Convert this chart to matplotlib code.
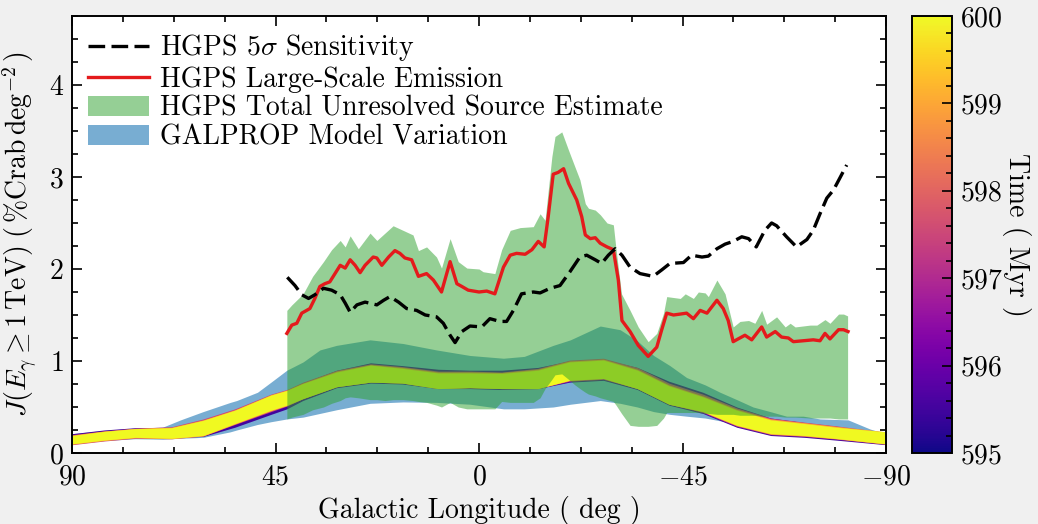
import numpy as np
import matplotlib
matplotlib.use("Agg")
import matplotlib.pyplot as plt
from matplotlib.ticker import MultipleLocator

plt.rcParams['font.family'] = 'serif'
plt.rcParams['font.serif'] = ['cmr10']
plt.rcParams['mathtext.fontset'] = 'cm'
plt.rcParams['axes.formatter.use_mathtext'] = True
plt.rcParams['axes.unicode_minus'] = True

# HGPS large-scale emission (red line)
l_hgps = [42.5, 41.4, 40.3, 39.2, 37.4, 36.3, 35.2, 34.1, 33.0, 30.7, 29.6, 28.5, 27.4, 26.3,
          25.2, 23.4, 22.6, 21.5, 20.0, 18.6, 17.5, 16.4, 14.9, 13.4, 11.6, 10.1, 8.3, 6.4,
          4.9, 3.8, 2.4, 0.0, -1.7, -3.5, -5.4, -6.9, -8.3, -10.2, -11.7, -13.1, -14.4,
          -15.3, -16.4, -17.5, -18.7, -19.8, -21.6, -22.7, -23.5, -24.6, -25.7, -26.8,
          -28.3, -29.7, -30.8, -31.6, -33.4, -35.2, -37.4, -39.3, -40.4, -41.5, -43.0,
          -44.5, -45.9, -47.4, -48.9, -50.4, -52.6, -54.0, -55.1, -56.2, -57.3, -58.8,
          -60.3, -62.5, -63.6, -65.5, -66.9, -68.4, -69.5, -71.7, -73.9, -75.4, -76.5,
          -77.6, -79.5, -80.6, -81.6]
large_scale = [1.30, 1.39, 1.41, 1.52, 1.57, 1.68, 1.81, 1.84, 1.86, 2.04, 2.01, 2.10, 2.04, 1.96,
               2.04, 2.13, 2.12, 2.04, 2.13, 2.20, 2.17, 2.12, 2.10, 1.92, 1.95, 1.88, 1.75, 2.08,
               1.84, 1.81, 1.77, 1.75, 1.76, 1.73, 2.02, 2.15, 2.17, 2.16, 2.21, 2.30, 2.24,
               2.57, 3.03, 3.05, 3.09, 2.93, 2.75, 2.57, 2.37, 2.33, 2.34, 2.28,
               2.24, 2.21, 1.88, 1.44, 1.32, 1.17, 1.05, 1.15, 1.34, 1.52, 1.50,
               1.51, 1.52, 1.46, 1.55, 1.52, 1.66, 1.57, 1.44, 1.21, 1.24, 1.28,
               1.23, 1.37, 1.26, 1.32, 1.26, 1.25, 1.21, 1.22, 1.23, 1.22, 1.30,
               1.24, 1.34, 1.34, 1.32]

# HGPS total unresolved source estimate (green band)
l_unres = [42.5, 41.4, 38.9, 36.8, 34.4, 32.6, 30.7, 29.6, 28.5, 26.7, 24.1, 22.6, 20.8, 19.0,
           16.8, 14.6, 13.4, 11.6, 9.4, 8.3, 6.4, 4.6, 2.7, 0.0, -0.9, -3.5, -5.0, -6.9,
           -9.1, -12.0, -13.5, -14.6, -16.1, -16.8, -18.3, -19.8, -21.2, -22.3, -23.5,
           -24.2, -25.7, -26.8, -28.3, -29.7, -30.3, -31.5, -33.4, -35.2, -37.4, -39.3,
           -40.8, -41.5, -44.5, -45.6, -47.4, -48.5, -50.0, -50.7, -52.6, -54.4, -56.2,
           -57.7, -59.6, -61.0, -62.5, -63.6, -65.8, -67.7, -68.8, -69.9, -73.2, -74.7,
           -76.5, -77.6, -79.5, -80.6, -81.5]
unres_hi = [1.55, 1.61, 1.73, 1.92, 2.08, 2.21, 2.31, 2.24, 2.36, 2.22, 2.39, 2.31, 2.39, 2.47,
            2.42, 2.37, 2.20, 2.24, 2.13, 2.01, 2.33, 2.08, 2.01, 2.00, 1.97, 1.95, 2.21, 2.42,
            2.45, 2.46, 2.60, 2.53, 3.22, 3.44, 3.49, 3.29, 3.11, 2.97, 2.71,
            2.66, 2.64, 2.59, 2.50, 2.48, 2.21, 1.73, 1.55, 1.37, 1.21, 1.30,
            1.52, 1.70, 1.68, 1.73, 1.68, 1.75, 1.74, 1.70, 1.88, 1.73, 1.37,
            1.43, 1.44, 1.41, 1.55, 1.40, 1.48, 1.37, 1.41, 1.37, 1.39, 1.39,
            1.45, 1.41, 1.51, 1.51, 1.49]
unres_lo = [0.37, 0.39, 0.42, 0.47, 0.50, 0.54, 0.57, 0.60, 0.61, 0.60, 0.58, 0.58, 0.57, 0.58,
            0.58, 0.57, 0.56, 0.55, 0.52, 0.50, 0.55, 0.50, 0.48, 0.48, 0.48, 0.48, 0.56, 0.55,
            0.55, 0.55, 0.60, 0.70, 0.80, 0.85, 0.86, 0.80, 0.74, 0.70, 0.66,
            0.64, 0.62, 0.60, 0.58, 0.56, 0.52, 0.43, 0.30, 0.29, 0.29, 0.30,
            0.38, 0.44, 0.44, 0.44, 0.44, 0.44, 0.43, 0.43, 0.42, 0.42, 0.42,
            0.41, 0.41, 0.41, 0.40, 0.40, 0.40, 0.39, 0.39, 0.39, 0.38, 0.38,
            0.38, 0.38, 0.37, 0.37, 0.37]

# HGPS 5 sigma sensitivity (black dashed)
l_sens = [42.4, 40.7, 39.2, 37.7, 36.3, 34.4, 32.6, 30.7, 29.6, 28.5, 27.0, 25.2, 22.6, 21.1,
          19.7, 17.8, 16.0, 13.8, 11.9, 9.4, 7.9, 6.4, 5.3, 3.8, 2.0, -0.6, -2.4, -4.6,
          -6.1, -7.6, -9.4, -12.0, -13.5, -15.7, -17.9, -20.1, -22.3, -23.8, -25.7, -27.1,
          -28.6, -30.1, -31.6, -33.4, -35.6, -38.5, -40.4, -42.2, -45.2, -47.0, -49.3,
          -50.7, -52.6, -54.4, -56.2, -58.1, -59.6, -61.3, -63.2, -64.7, -65.8, -68.0,
          -70.2, -72.5, -73.9, -75.4, -76.9, -78.4, -79.8, -81.3]
sensitivity = [1.91, 1.82, 1.72, 1.68, 1.72, 1.79, 1.77, 1.72, 1.63, 1.53, 1.61, 1.64, 1.61, 1.66,
               1.70, 1.64, 1.57, 1.55, 1.50, 1.48, 1.41, 1.28, 1.20, 1.32, 1.38, 1.37, 1.46, 1.43,
               1.43, 1.55, 1.73, 1.75, 1.74, 1.79, 1.82, 1.97, 2.13, 2.15, 2.10, 2.06,
               2.15, 2.22, 2.15, 2.02, 1.95, 1.92, 1.99, 2.06, 2.07, 2.15, 2.13,
               2.14, 2.22, 2.27, 2.30, 2.35, 2.33, 2.24, 2.42, 2.50, 2.47, 2.35,
               2.24, 2.32, 2.42, 2.60, 2.77, 2.86, 2.99, 3.13]

# GALPROP model variation (blue band)
l_galprop = [90, 83, 76, 70, 66, 61, 55, 53.6, 49, 46, 42.5, 38.9, 35.2, 31.5, 24.1, 16.8, 9.4,
             2.0, -5.4, -10, -16.4, -20.2, -26.8, -31.2, -35, -38.6, -42.2, -45.9, -50,
             -53.3, -57, -60.6, -64.4, -68.0, -71.7, -75.4, -81.6, -86.5, -90]
galprop_hi = [0.21, 0.245, 0.27, 0.28, 0.36, 0.45, 0.55, 0.57, 0.66, 0.77, 0.90, 0.99, 1.12,
              1.17, 1.23, 1.19, 1.12, 1.06, 1.03, 1.05, 1.17, 1.23, 1.38, 1.34, 1.22, 1.06,
              0.95, 0.82, 0.74, 0.66, 0.58, 0.50, 0.45, 0.40, 0.40, 0.37, 0.36, 0.26, 0.21]
galprop_lo = [0.10, 0.135, 0.155, 0.15, 0.16, 0.17, 0.23, 0.25, 0.31, 0.34, 0.37, 0.39, 0.43,
              0.47, 0.54, 0.555, 0.55, 0.53, 0.48, 0.48, 0.50, 0.53, 0.57, 0.54, 0.50, 0.45,
              0.42, 0.40, 0.38, 0.35, 0.32, 0.29, 0.26, 0.23, 0.21, 0.19, 0.17, 0.15, 0.12]

# diffuse emission snapshots from the simulation, one band per time
l_sim = [90, 83, 76, 68, 61, 54, 46, 42.5, 39, 31.5, 24, 17, 9, 2, -5, -13, -20, -27.5, -35,
         -42, -49.5, -57, -64.5, -72, -79, -90]
times = [595.5, 597.5, 599.0, 600.0]
sim_hi = [
    [0.21, 0.25, 0.275, 0.28, 0.35, 0.45, 0.60, 0.66, 0.76, 0.90, 0.98, 0.95, 0.91, 0.90, 0.90,
     0.93, 1.00, 1.02, 0.93, 0.78, 0.66, 0.50, 0.38, 0.33, 0.29, 0.21],
    [0.20, 0.24, 0.27, 0.285, 0.37, 0.48, 0.64, 0.69, 0.77, 0.90, 0.97, 0.94, 0.89, 0.89, 0.88,
     0.92, 1.01, 1.03, 0.93, 0.76, 0.64, 0.49, 0.38, 0.335, 0.295, 0.225],
    [0.195, 0.238, 0.267, 0.28, 0.36, 0.47, 0.635, 0.685, 0.76, 0.89, 0.96, 0.93, 0.88, 0.88,
     0.875, 0.91, 1.00, 1.02, 0.91, 0.74, 0.62, 0.475, 0.37, 0.33, 0.29, 0.23],
    [0.19, 0.235, 0.265, 0.275, 0.355, 0.465, 0.63, 0.68, 0.755, 0.88, 0.955, 0.92, 0.87, 0.87,
     0.865, 0.90, 0.99, 1.01, 0.90, 0.73, 0.61, 0.465, 0.36, 0.32, 0.28, 0.23],
]
sim_lo = [
    [0.11, 0.15, 0.175, 0.165, 0.18, 0.28, 0.42, 0.48, 0.57, 0.71, 0.76, 0.75, 0.70, 0.70, 0.69,
     0.70, 0.77, 0.79, 0.69, 0.52, 0.43, 0.28, 0.19, 0.17, 0.14, 0.09],
    [0.09, 0.13, 0.16, 0.155, 0.185, 0.31, 0.45, 0.51, 0.59, 0.72, 0.77, 0.76, 0.70, 0.71, 0.70,
     0.70, 0.78, 0.80, 0.70, 0.53, 0.44, 0.29, 0.20, 0.18, 0.15, 0.095],
    [0.095, 0.135, 0.165, 0.155, 0.185, 0.315, 0.46, 0.515, 0.59, 0.72, 0.77, 0.76, 0.70, 0.71,
     0.70, 0.70, 0.79, 0.81, 0.70, 0.53, 0.45, 0.30, 0.205, 0.185, 0.155, 0.097],
    [0.10, 0.14, 0.17, 0.16, 0.19, 0.32, 0.465, 0.52, 0.59, 0.72, 0.77, 0.76, 0.70, 0.71, 0.70,
     0.70, 0.79, 0.81, 0.70, 0.53, 0.45, 0.30, 0.21, 0.19, 0.157, 0.10],
]

t_min, t_max = 595, 600
cmap = plt.get_cmap('plasma')
norm = matplotlib.colors.Normalize(vmin=t_min, vmax=t_max)

fig = plt.figure(figsize=(10.38, 5.24), dpi=100, facecolor='#f0f0f0')
ax = fig.add_axes([0.0694, 0.1355, 0.7842, 0.834])
cax = fig.add_axes([0.8786, 0.1355, 0.0385, 0.834])

ax.fill_between(l_galprop, galprop_lo, galprop_hi, color='tab:blue', alpha=0.6, lw=0,
                label='GALPROP Model Variation', zorder=1)
for t, lo, hi in zip(times, sim_lo, sim_hi):
    ax.fill_between(l_sim, lo, hi, color=cmap(norm(t)), lw=0, zorder=2)
ax.fill_between(l_unres, unres_lo, unres_hi, color='tab:green', alpha=0.5, lw=0,
                label='HGPS Total Unresolved Source Estimate', zorder=3)
ax.plot(l_hgps, large_scale, color='#e41a1c', lw=2.4, label='HGPS Large-Scale Emission', zorder=4)
ax.plot(l_sens, sensitivity, color='black', lw=2.4, dashes=(5.0, 1.9),
        label=r'HGPS $5\sigma$ Sensitivity', zorder=5)

ax.set_xlim(90, -90)
ax.set_ylim(0, 4.75)
ax.xaxis.set_major_locator(MultipleLocator(45))
ax.xaxis.set_minor_locator(MultipleLocator(11.25))
ax.yaxis.set_major_locator(MultipleLocator(1))
ax.yaxis.set_minor_locator(MultipleLocator(0.25))
ax.tick_params(which='both', direction='in', top=True, right=True, labelsize=20, width=1.2)
ax.tick_params(which='major', length=7)
ax.tick_params(which='minor', length=4)
ax.tick_params(axis='x', pad=8)
ax.tick_params(axis='y', pad=6)
for s in ax.spines.values():
    s.set_linewidth(1.4)

ax.set_xlabel('Galactic Longitude ( deg )', fontsize=20, labelpad=4)
ax.set_ylabel(r'$J(E_\gamma \geq 1\,\mathrm{TeV})\ (\,\%\mathrm{Crab}\,\mathrm{deg}^{-2}\,)$',
              fontsize=20, labelpad=6)

handles, labels = ax.get_legend_handles_labels()
order = [3, 2, 1, 0]
ax.legend([handles[i] for i in order], [labels[i] for i in order], loc='upper left',
          frameon=False, fontsize=20, handlelength=2.2, handletextpad=0.4,
          labelspacing=0.1, borderaxespad=0.3, bbox_to_anchor=(-0.004, 1.007))

sm = matplotlib.cm.ScalarMappable(norm=norm, cmap=cmap)
cb = fig.colorbar(sm, cax=cax)
cb.set_ticks([595, 596, 597, 598, 599, 600])
cb.ax.yaxis.set_minor_locator(MultipleLocator(0.2))
cb.ax.tick_params(which='both', direction='in', labelsize=20, width=1.2, pad=6)
cb.ax.tick_params(which='major', length=7)
cb.ax.tick_params(which='minor', length=4)
cb.outline.set_linewidth(1.4)
cb.set_label('Time ( Myr )', fontsize=20, rotation=270, labelpad=20)

fig.savefig('out.png', dpi=100, facecolor=fig.get_facecolor())
